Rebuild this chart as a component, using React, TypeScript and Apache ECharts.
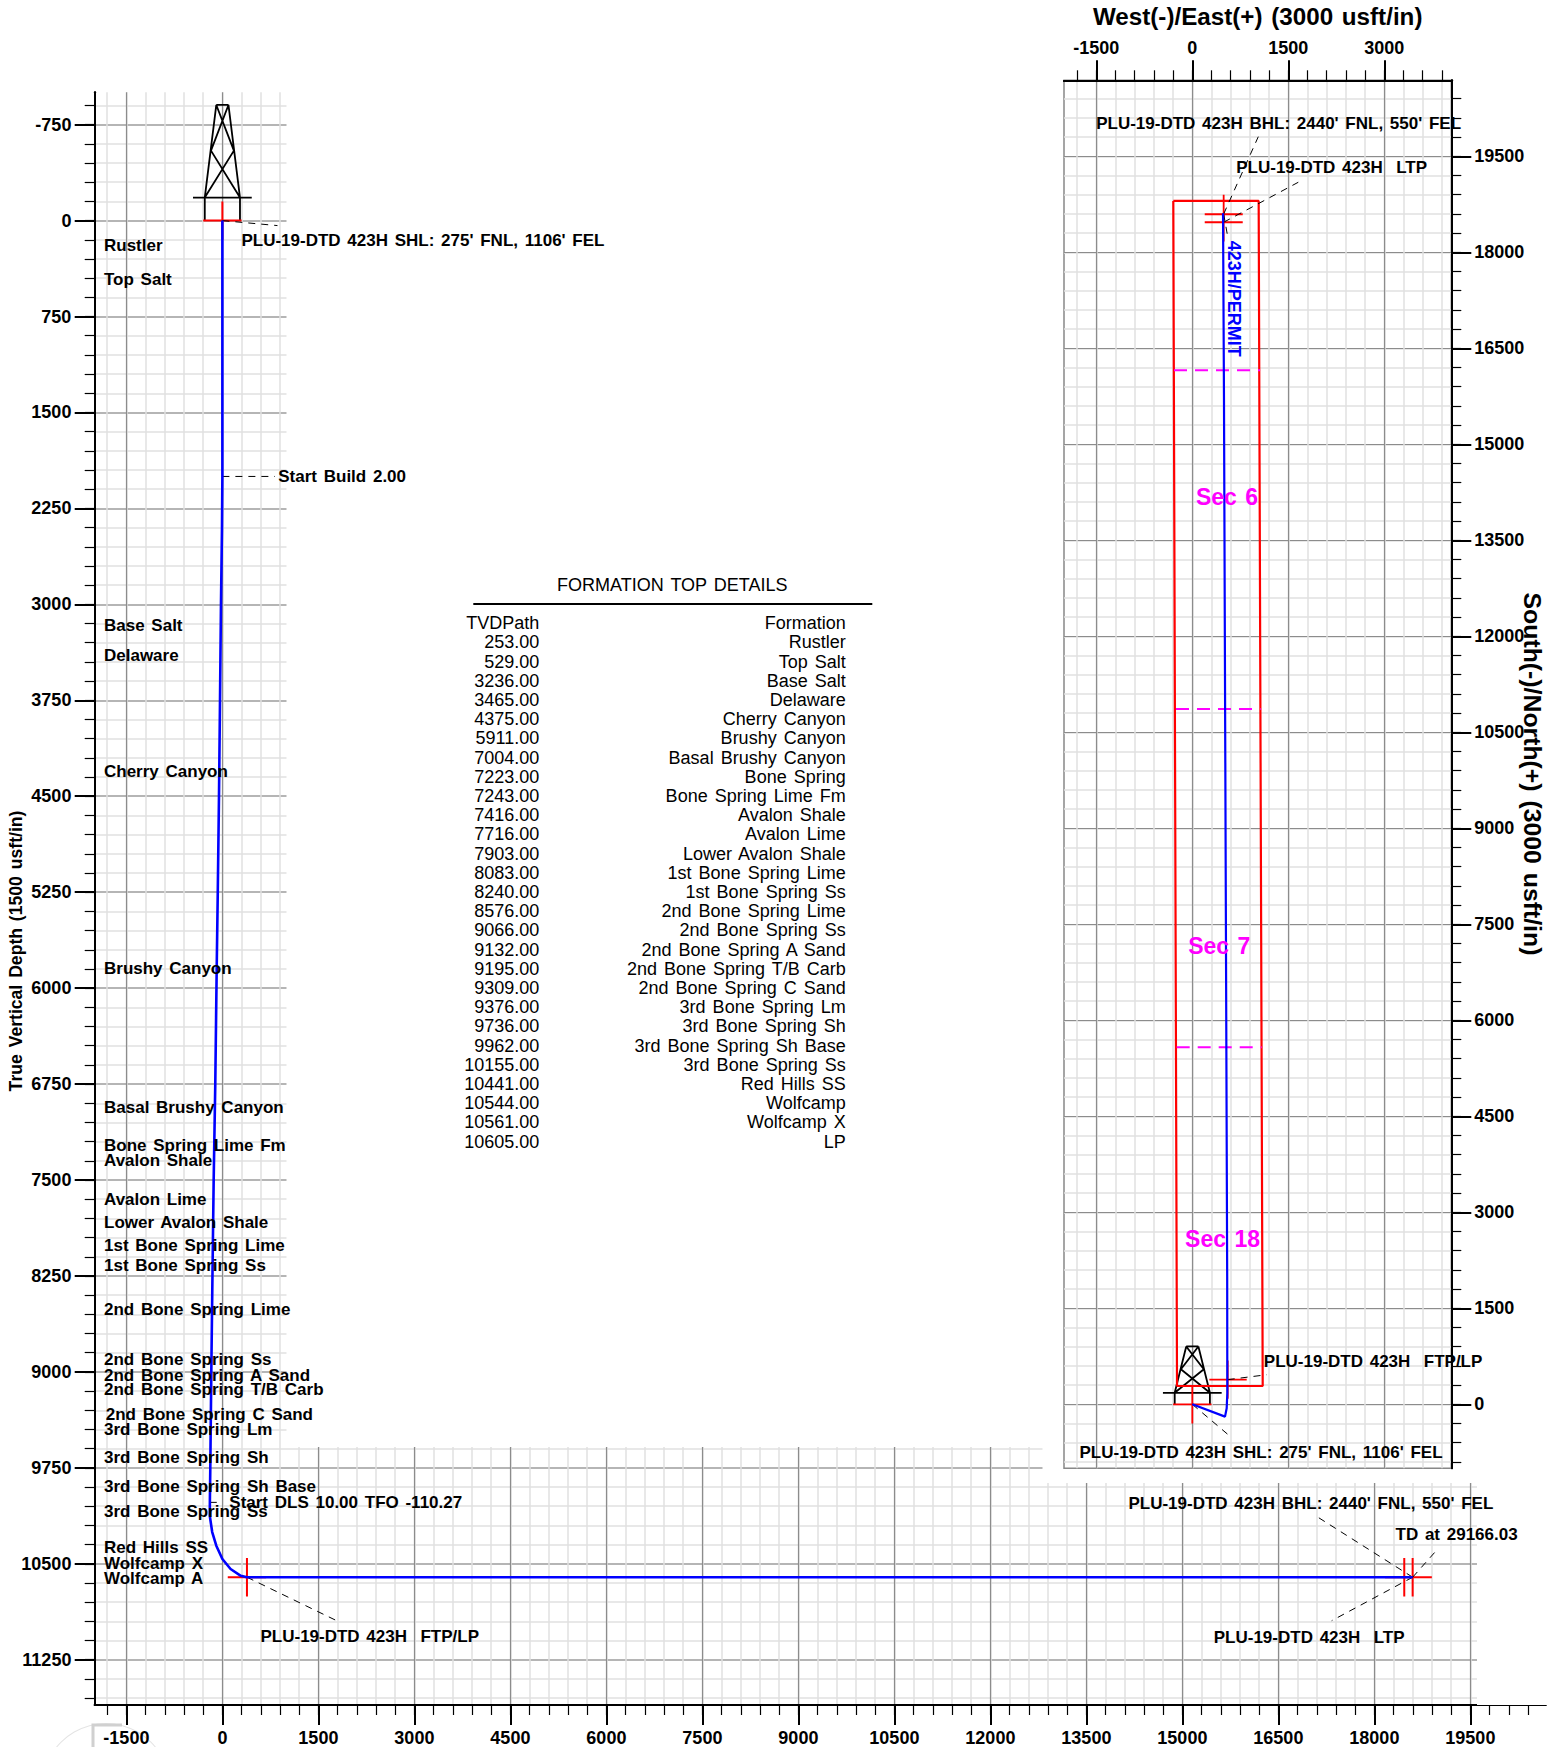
import React, { useEffect, useRef } from "react";
import * as echarts from "echarts";

const FONT = "Liberation Sans";

// ---- axis values
const seq = (a: number, b: number, s: number) => { const r: number[] = []; for (let v = a; v <= b; v += s) r.push(v); return r; };
const bottomMajor = [-1500, 0, 1500, 3000, 4500, 6000, 7500, 9000, 10500, 12000, 13500, 15000, 16500, 18000, 19500];
const bottomMinor = seq(-1800, 20400, 300);
const leftMajor = [-750, 0, 750, 1500, 2250, 3000, 3750, 4500, 5250, 6000, 6750, 7500, 8250, 9000, 9750, 10500, 11250];
const leftMinor = seq(-900, 11550, 150);
const topMajor = [-1500, 0, 1500, 3000];
const topMinor = seq(-1800, 3900, 300);
const rightMajor = [0, 1500, 3000, 4500, 6000, 7500, 9000, 10500, 12000, 13500, 15000, 16500, 18000, 19500];
const rightMinor = seq(-900, 20400, 300);

// ---- section view well path
const sectionX = [0, 0, -6, -22, -37, -53, -72, -89, -111, -136, -155, -173, -189, -195, -197, -159, -95, 0, 128, 288, 384, 18598];
const sectionTVD = [0, 2000, 2400, 3000, 3750, 4500, 5250, 5854, 6752, 7500, 8250, 9000, 9760, 10000, 10125, 10252, 10359, 10463, 10541, 10594, 10605, 10605];

// ---- plan view well path
const planE = [0, 511, 537, 547, 545, 495, 480];
const planN = [0, -193, -63, 172, 2000, 15692, 18609];

// ---- plan view lease outline
const leaseE = [-297, 1037, 1100, -239, -297];
const leaseN = [18802, 18802, 286, 286, 18802];

// ---- section lines
const sectionLineN = [16156, 10864, 5578];
const sectionLineLeft = [-286, -255, -244];
const sectionLineRight = [1059, 1068, 1084];

// ---- table
const tvdPath = ["253.00","529.00","3236.00","3465.00","4375.00","5911.00","7004.00","7223.00","7243.00","7416.00","7716.00","7903.00","8083.00","8240.00","8576.00","9066.00","9132.00","9195.00","9309.00","9376.00","9736.00","9962.00","10155.00","10441.00","10544.00","10561.00","10605.00"];
const formation = ["Rustler","Top Salt","Base Salt","Delaware","Cherry Canyon","Brushy Canyon","Basal Brushy Canyon","Bone Spring","Bone Spring Lime Fm","Avalon Shale","Avalon Lime","Lower Avalon Shale","1st Bone Spring Lime","1st Bone Spring Ss","2nd Bone Spring Lime","2nd Bone Spring Ss","2nd Bone Spring A Sand","2nd Bone Spring T/B Carb","2nd Bone Spring C Sand","3rd Bone Spring Lm","3rd Bone Spring Sh","3rd Bone Spring Sh Base","3rd Bone Spring Ss","Red Hills SS","Wolfcamp","Wolfcamp X","LP"];

// ---- formation labels on the section view
const formationLabels = ["Rustler","Top Salt","Base Salt","Delaware","Cherry Canyon","Brushy Canyon","Basal Brushy Canyon","Bone Spring Lime Fm","Avalon Shale","Avalon Lime","Lower Avalon Shale","1st Bone Spring Lime","1st Bone Spring Ss","2nd Bone Spring Lime","2nd Bone Spring Ss","2nd Bone Spring A Sand","2nd Bone Spring T/B Carb","2nd Bone Spring C Sand","3rd Bone Spring Lm","3rd Bone Spring Sh","3rd Bone Spring Sh Base","3rd Bone Spring Ss","Red Hills SS","Wolfcamp X","Wolfcamp A"];
const formationLabelDepth = [184,455,3159,3393,4299,5838,6928,7225,7337,7643,7822,8007,8163,8503,8894,9019,9132,9322,9442,9661,9885,10080,10367,10488,10605];

// ---- rig glyph: [east, offset] segments (shared by both views, offset sign flips in plan)
const rigSegs = [
  [-275, 0, -275, -180], [275, 0, 275, -180], [-459, -180, 459, -180],
  [-275, -180, -95, -904], [275, -180, 95, -904], [-95, -904, 95, -904],
  [-275, -180, 180, -547], [275, -180, -178, -547], [-178, -547, 95, -904], [180, -547, -95, -904],
];

// ---- [x1,y1,x2,y2]
const secRed = [
  [-300, 0, 300, 0], [0, -150, 0, 150],
  [84, 10605, 684, 10605], [384, 10455, 384, 10755],
  [18167, 10605, 18767, 10605], [18467, 10455, 18467, 10755],
  [18298, 10605, 18898, 10605], [18598, 10455, 18598, 10755],
];
const planRed = [
  [-300, 0, 300, 0], [0, -300, 0, 300],
  [266, 385, 850, 385], [553, 85, 553, 685],
  [194, 18594, 788, 18594], [490, 18298, 490, 18898],
  [194, 18469, 788, 18469], [490, 18169, 490, 18769],
];
const secLeaders = [
  [0, 0, 861, 39], [0, 2000, 822, 2000], [-197, 10020, 0, 10020],
  [384, 10605, 1786, 10945], [18598, 10605, 17108, 10133], [18598, 10605, 18998, 10380], [18598, 10605, 17333, 10945],
];
const planLeaders = [
  [490, 18598, 1031, 19806], [490, 18469, 1656, 19094], [490, 18598, 553, 18244],
  [553, 385, 1163, 462], [0, 0, 616, -522],
];

// ---- annotations: text, x, y
const secNotes: [string, number, number][] = [
  ["PLU-19-DTD 423H SHL: 275' FNL, 1106' FEL", 306, 151],
  ["Start Build 2.00", 881, 1994],
  ["Start DLS 10.00 TFO -110.27", 116, 10016],
  ["PLU-19-DTD 423H  FTP/LP", 603, 11057],
  ["PLU-19-DTD 423H BHL: 2440' FNL, 550' FEL", 14165, 10023],
  ["TD at 29166.03", 18338, 10260],
  ["PLU-19-DTD 423H  LTP", 15498, 11070],
];
const planNotes: [string, number, number][] = [
  ["PLU-19-DTD 423H BHL: 2440' FNL, 550' FEL", -1494, 20020],
  ["PLU-19-DTD 423H  LTP", 694, 19338],
  ["PLU-19-DTD 423H  FTP/LP", 1125, 677],
  ["PLU-19-DTD 423H SHL: 275' FNL, 1106' FEL", -1755, -730],
];
const secNames: [string, number, number][] = [["Sec 6", 542, 14176], ["Sec 7", 420, 7161], ["Sec 18", 472, 2589]];

const segsToData = (segs: number[][], flip = 1) => {
  const out: (number | null)[][] = [];
  segs.forEach((s) => { out.push([s[0], s[1] * flip], [s[2], s[3] * flip], [null, null]); });
  return out;
};

const lineS = (idx: number, data: any[], color: string, width: number, type: any = "solid", z = 5) => ({
  type: "line", xAxisIndex: idx, yAxisIndex: idx, data, symbol: "none", silent: true, clip: false, z,
  connectNulls: false, lineStyle: { color, width, type },
});
const noteS = (idx: number, data: any[], label: any, z = 6) => ({
  type: "scatter", xAxisIndex: idx, yAxisIndex: idx, data, symbolSize: 1, silent: true, clip: false, z,
  itemStyle: { color: "rgba(0,0,0,0)", opacity: 1 },
  label: { show: true, position: "right", distance: 0, offset: [-1, 1], opacity: 1, fontFamily: FONT, fontWeight: "bold", fontSize: 17, color: "#000", formatter: (p: any) => p.name, ...label },
});

const axisOf = (gridIndex: number, position: string, min: number, max: number, ticks: number[], len: number, labels: boolean, margin: number, lineW: number, splitColor: string, splitW: number, z: number) => ({
  type: "value", gridIndex, position, min, max, z,
  axisLine: { show: true, onZero: false, lineStyle: { color: "#000", width: 2 } },
  axisTick: { show: true, customValues: ticks, length: len, lineStyle: { color: "#000", width: lineW } },
  axisLabel: labels ? { show: true, customValues: ticks, margin, fontFamily: FONT, fontWeight: "bold", fontSize: 18, color: "#000", formatter: (v: number) => String(v), hideOverlap: false } : { show: false },
  splitLine: { show: true, lineStyle: { color: splitColor, width: splitW } },
});

export default function App() {
  const ref = useRef<HTMLDivElement>(null);
  useEffect(() => {
    const chart = echarts.init(ref.current!, undefined, { renderer: "svg" });
    const dashedLeader = [7, 6];
    const graphicEls: any[] = [
      { type: "ring", shape: { cx: 106, cy: 1787, r: 64, r0: 63 }, style: { fill: "#e4e4e4" }, z: 0 },
      { type: "polyline", shape: { points: [[93, 1747], [93, 1725], [122, 1725]] }, style: { stroke: "#d0d0d0", lineWidth: 3, fill: "none" }, z: 0 },
      { type: "rect", shape: { x: 286.5, y: 0, width: 1275, height: 1447 }, style: { fill: "#fff" }, z: 1 },
      { type: "rect", shape: { x: 1042.5, y: 0, width: 519, height: 1483 }, style: { fill: "#fff" }, z: 1 },
      { type: "rect", shape: { x: 1477, y: 1483, width: 84, height: 222 }, style: { fill: "#fff" }, z: 1 },
      { type: "text", x: 1257.7, y: 16, z: 6, style: { text: "West(-)/East(+) (3000 usft/in)", font: `bold 24.2px '${FONT}'`, fill: "#000", textAlign: "center", textVerticalAlign: "middle" } },
      { type: "text", x: 15.5, y: 951, rotation: Math.PI / 2, z: 6, style: { text: "True Vertical Depth (1500 usft/in)", font: `bold 17.6px '${FONT}'`, fill: "#000", textAlign: "center", textVerticalAlign: "middle" } },
      { type: "text", x: 1532, y: 774, rotation: -Math.PI / 2, z: 6, style: { text: "South(-)/North(+) (3000 usft/in)", font: `bold 24.8px '${FONT}'`, fill: "#000", textAlign: "center", textVerticalAlign: "middle" } },
      { type: "text", x: 672.3, y: 585, z: 6, style: { text: "FORMATION TOP DETAILS", font: `18px '${FONT}'`, fill: "#000", textAlign: "center", textVerticalAlign: "middle" } },
      { type: "line", shape: { x1: 473.3, y1: 604, x2: 872.3, y2: 604 }, style: { stroke: "#000", lineWidth: 2 }, z: 6 },
      { type: "text", x: 539.3, y: 622.7, z: 6, style: { text: "TVDPath", font: `18px '${FONT}'`, fill: "#000", textAlign: "right", textVerticalAlign: "middle" } },
      { type: "text", x: 845.7, y: 622.7, z: 6, style: { text: "Formation", font: `18px '${FONT}'`, fill: "#000", textAlign: "right", textVerticalAlign: "middle" } },
    ];
    tvdPath.forEach((t, i) => {
      const y = 642.3 + i * 19.2;
      graphicEls.push({ type: "text", x: 539.3, y, z: 6, style: { text: t, font: `18px '${FONT}'`, fill: "#000", textAlign: "right", textVerticalAlign: "middle" } });
      graphicEls.push({ type: "text", x: 845.7, y, z: 6, style: { text: formation[i], font: `18px '${FONT}'`, fill: "#000", textAlign: "right", textVerticalAlign: "middle" } });
    });

    chart.setOption({
      animation: false,
      backgroundColor: "#fff",
      graphic: { elements: graphicEls },
      grid: [
        { left: 94.7, top: 92.3, width: 1451, height: 1613.7, show: false, containLabel: false },
        { left: 1064, top: 80.3, width: 387.3, height: 1388, show: true, z: 2, borderColor: "#888", borderWidth: 1.5, backgroundColor: "#fff", containLabel: false },
      ],
      xAxis: [
        axisOf(0, "bottom", -1995, 20677, bottomMinor, 10, false, 0, 1.2, "#e0e0e0", 1.5, 0),
        axisOf(0, "bottom", -1995, 20677, bottomMajor, 20, true, 24, 2, "#8c8c8c", 1.2, 0),
        axisOf(1, "top", -2005, 4047, topMinor, 10, false, 0, 1.2, "#e0e0e0", 1.5, 3),
        axisOf(1, "top", -2005, 4047, topMajor, 20, true, 23, 2, "#8c8c8c", 1.2, 3),
      ],
      yAxis: [
        { ...axisOf(0, "left", -1003, 11604, leftMinor, 10, false, 0, 1.2, "#e0e0e0", 1.5, 0), inverse: true },
        { ...axisOf(0, "left", -1003, 11604, leftMajor, 20, true, 23.3, 2, "#a4a4a4", 1.5, 0), inverse: true },
        axisOf(1, "right", -1000, 20687, rightMinor, 10, false, 0, 1.2, "#e0e0e0", 1.5, 3),
        axisOf(1, "right", -1000, 20687, rightMajor, 20, true, 23, 2, "#8c8c8c", 1.2, 3),
      ],
      series: [
        lineS(1, segsToData(rigSegs), "#000", 1.8),
        lineS(3, segsToData(rigSegs, -1), "#000", 1.8),
        lineS(1, segsToData(secRed), "#ff0000", 2),
        lineS(3, segsToData(planRed), "#ff0000", 1.8),
        lineS(3, leaseE.map((e, i) => [e, leaseN[i]]), "#ff0000", 2.2),
        ...sectionLineN.map((n, i) => lineS(3, [[sectionLineLeft[i], n], [sectionLineRight[i], n]], "#ff00ff", 2, [13, 8])),
        lineS(1, segsToData(secLeaders), "#000", 1, dashedLeader, 5),
        lineS(3, segsToData(planLeaders), "#000", 1, dashedLeader, 5),
        lineS(1, sectionX.map((x, i) => [x, sectionTVD[i]]), "#0000ff", 2.6),
        lineS(3, planE.map((x, i) => [x, planN[i]]), "#0000ff", 2.2),
        noteS(1, formationLabels.map((n, i) => ({ name: n, value: [n === "2nd Bone Spring C Sand" ? -1815 : -1842, formationLabelDepth[i]] })), {}),
        noteS(1, secNotes.map((a) => ({ name: a[0], value: [a[1], a[2]] })), {}),
        noteS(3, planNotes.map((a) => ({ name: a[0], value: [a[1], a[2]] })), {}),
        noteS(3, secNames.map((a) => ({ name: a[0], value: [a[1], a[2]] })), { position: "inside", offset: [0, 0], color: "#ff00ff", fontSize: 23, align: "center", verticalAlign: "middle" }),
        noteS(3, [{ name: "423H/PERMIT", value: [652, 17275] }], { position: "inside", offset: [0, 0], color: "#0000ff", fontSize: 18, rotate: -90, align: "center", verticalAlign: "middle" }),
      ],
    });
    return () => chart.dispose();
  }, []);
  return <div ref={ref} style={{ position: "absolute", left: 0, top: 0, width: 1561, height: 1747, wordSpacing: "2px" }} />;
}
